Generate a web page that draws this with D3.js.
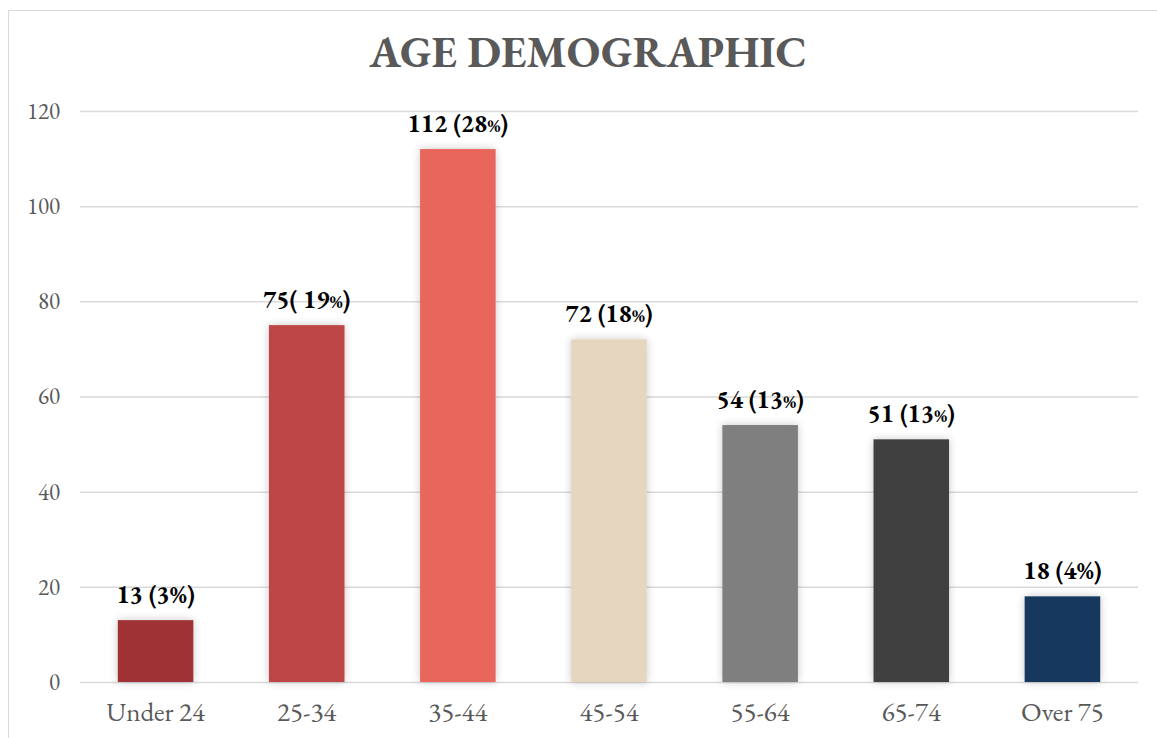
<!DOCTYPE html>
<html>
<head>
<meta charset="utf-8">
<script src="https://cdn.jsdelivr.net/npm/d3@7"></script>
<style>
  html, body { margin: 0; padding: 0; background: #fff; }
  svg { display: block; }
</style>
</head>
<body>
<svg id="chart" width="1157" height="738"></svg>
<script>
// Respondents by age group
const categories = ["Under 24", "25-34", "35-44", "45-54", "55-64", "65-74", "Over 75"];
const counts = [13, 75, 112, 72, 54, 51, 18];
const labelCounts = ["13 (", "75( ", "112 (", "72 (", "54 (", "51 (", "18 ("];
const labelPercents = ["3", "19", "28", "18", "13", "13", "4"];
const smallPercentSign = [false, true, true, true, true, true, false];
const barColors = ["#9e3335", "#be4445", "#e9665d", "#e6d6c0", "#7f7f7f", "#404040", "#17375e"];
const yTicks = [0, 20, 40, 60, 80, 100, 120];

const serif = "'EB Garamond', Garamond, 'Liberation Serif', 'DejaVu Serif', serif";

const svg = d3.select("#chart");
const margin = { left: 80, right: 19, top: 111, bottom: 56 };
const width = 1157, height = 738;

// outer chart frame
svg.append("rect")
  .attr("x", 8.5).attr("y", 10.5)
  .attr("width", width + 10).attr("height", height + 10)
  .attr("fill", "#fff").attr("stroke", "#d9d9d9").attr("stroke-width", 1);

const defs = svg.append("defs");
const shadow = defs.append("filter").attr("id", "barShadow")
  .attr("x", "-30%").attr("y", "-30%").attr("width", "160%").attr("height", "160%");
shadow.append("feGaussianBlur").attr("in", "SourceAlpha").attr("stdDeviation", 4).attr("result", "blur");
shadow.append("feComponentTransfer").attr("in", "blur").attr("result", "soft")
  .append("feFuncA").attr("type", "linear").attr("slope", 0.22);
const merge = shadow.append("feMerge");
merge.append("feMergeNode").attr("in", "soft");
merge.append("feMergeNode").attr("in", "SourceGraphic");

const x = d3.scaleBand()
  .domain(categories)
  .range([margin.left, width - margin.right])
  .paddingInner(0.5)
  .paddingOuter(0.25);

const y = d3.scaleLinear()
  .domain([0, 120])
  .range([height - margin.bottom, margin.top]);

// title
svg.append("text")
  .attr("x", 588).attr("y", 67)
  .attr("text-anchor", "middle")
  .attr("font-family", serif)
  .attr("font-weight", "bold")
  .attr("font-size", 44)
  .attr("fill", "#595959")
  .text("AGE DEMOGRAPHIC");

// gridlines
const yAxis = d3.axisLeft(y).tickValues(yTicks).tickSize(-(width - margin.right - margin.left)).tickPadding(20);
const gy = svg.append("g").attr("transform", `translate(${margin.left},0)`).call(yAxis);
gy.select(".domain").remove();
gy.selectAll(".tick line").attr("stroke", "#d9d9d9").attr("stroke-width", 1.5);
gy.selectAll(".tick text")
  .attr("font-family", serif).attr("font-size", 23).attr("fill", "#595959");

// category axis
const xAxis = d3.axisBottom(x).tickSize(0).tickPadding(20);
const gx = svg.append("g").attr("transform", `translate(0,${height - margin.bottom})`).call(xAxis);
gx.select(".domain").remove();
gx.selectAll(".tick text")
  .attr("font-family", serif).attr("font-size", 27).attr("fill", "#595959");

// bars
svg.append("g").selectAll("rect")
  .data(categories)
  .join("rect")
  .attr("x", d => x(d))
  .attr("y", (d, i) => y(counts[i]))
  .attr("width", x.bandwidth())
  .attr("height", (d, i) => y(0) - y(counts[i]))
  .attr("fill", (d, i) => barColors[i])
  .attr("filter", "url(#barShadow)");

// value labels
const labels = svg.append("g").selectAll("text")
  .data(categories)
  .join("text")
  .attr("x", d => x(d) + x.bandwidth() / 2)
  .attr("y", (d, i) => y(counts[i]) - 17)
  .attr("text-anchor", "middle")
  .attr("font-family", serif)
  .attr("font-weight", "bold")
  .attr("font-size", 25)
  .attr("fill", "#000");
labels.append("tspan").text((d, i) => labelCounts[i] + labelPercents[i]);
labels.append("tspan")
  .attr("font-size", (d, i) => smallPercentSign[i] ? 19 : 25)
  .text("%");
labels.append("tspan").text(")");
</script>
</body>
</html>
